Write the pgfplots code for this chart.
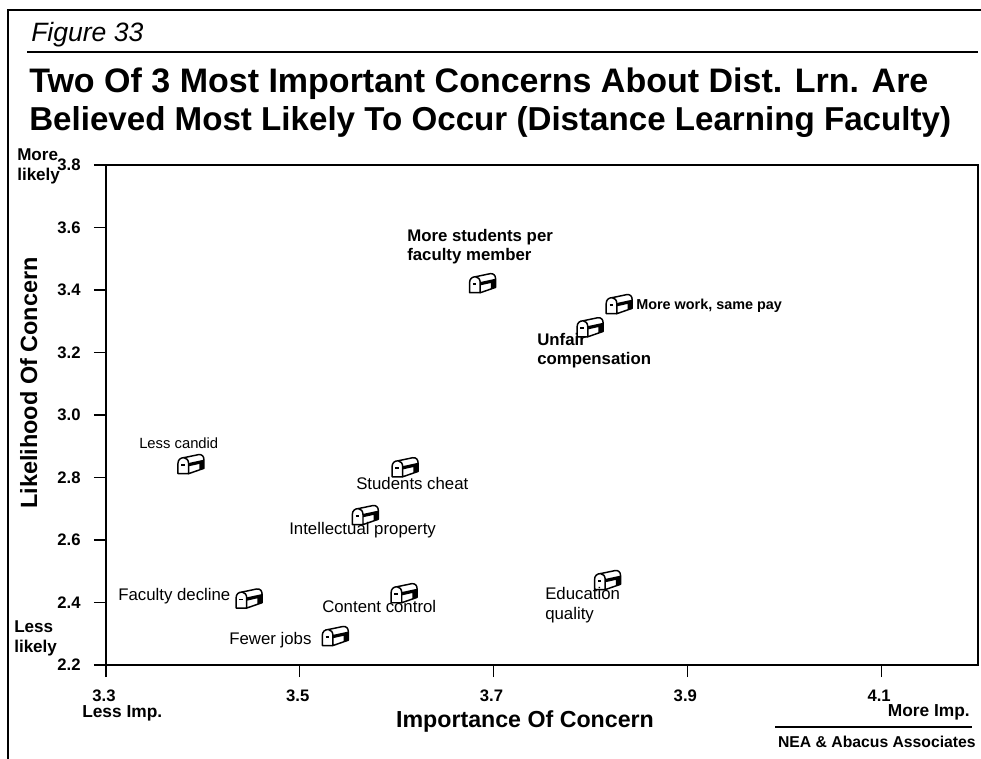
\documentclass[border=0pt]{standalone}
\usepackage{pgfplots}
\usepackage{fontspec}
\setmainfont{Liberation Sans}
\pgfplotsset{compat=1.18}
\pgfdeclareplotmark{mailbox}{%
  \pgfsetlinewidth{1.1pt}\pgfsetroundjoin
  % body
  \pgfpathmoveto{\pgfqpoint{-5.5pt}{5.5pt}}
  \pgfpathlineto{\pgfqpoint{5.5pt}{7.8pt}}
  \pgfpathcurveto{\pgfqpoint{8pt}{8.1pt}}{\pgfqpoint{9.5pt}{6.5pt}}{\pgfqpoint{9.5pt}{4pt}}
  \pgfpathlineto{\pgfqpoint{9.5pt}{-2.5pt}}
  \pgfpathlineto{\pgfqpoint{-2pt}{-6.5pt}}
  \pgfpathclose
  \pgfsetfillcolor{white}\pgfusepath{fill,stroke}
  % dark band and end of the box
  \pgfpathmoveto{\pgfqpoint{-2pt}{1.5pt}}
  \pgfpathlineto{\pgfqpoint{9.5pt}{4pt}}
  \pgfpathlineto{\pgfqpoint{9.5pt}{-2.5pt}}
  \pgfpathlineto{\pgfqpoint{6pt}{-3.7pt}}
  \pgfpathlineto{\pgfqpoint{6pt}{0.8pt}}
  \pgfpathlineto{\pgfqpoint{-2pt}{-1pt}}
  \pgfpathclose
  \pgfsetfillcolor{black}\pgfusepath{fill}
  % door
  \pgfpathmoveto{\pgfqpoint{-10pt}{-6.5pt}}
  \pgfpathlineto{\pgfqpoint{-10pt}{1pt}}
  \pgfpathcurveto{\pgfqpoint{-10pt}{4pt}}{\pgfqpoint{-8pt}{5.5pt}}{\pgfqpoint{-5.5pt}{5.5pt}}
  \pgfpathcurveto{\pgfqpoint{-3.5pt}{5.5pt}}{\pgfqpoint{-2pt}{3.5pt}}{\pgfqpoint{-2pt}{1pt}}
  \pgfpathlineto{\pgfqpoint{-2pt}{-6.5pt}}
  \pgfpathclose
  \pgfsetfillcolor{white}\pgfusepath{fill,stroke}
  \pgfpathmoveto{\pgfqpoint{-7.5pt}{0pt}}
  \pgfpathlineto{\pgfqpoint{-4.8pt}{0pt}}
  \pgfusepath{stroke}
}
\begin{document}
\begin{tikzpicture}
\begin{axis}[
  at={(79.5pt,-498.75pt)},anchor=south west,
  scale only axis,width=654pt,height=375pt,
  xmin=3.3,xmax=4.2,ymin=2.2,ymax=3.8,
  xtick={3.3,3.5,3.7,3.9,4.1},
  ytick={2.2,2.4,2.6,2.8,3.0,3.2,3.4,3.6,3.8},
  axis line style={line width=0.9pt},
  tick style={line width=0.9pt,black},
  tick align=outside,major tick length=9pt,
  xtick pos=bottom,ytick pos=left,
  tick label style={font=\bfseries\fontsize{12.5}{12.5}\selectfont},
  /pgf/number format/assume math mode=true,
  /pgf/number format/.cd,fixed,fixed zerofill,precision=1,/pgfplots/.cd,
  xticklabel style={yshift=-6pt,xshift=-1.5pt},
  yticklabel style={xshift=-6.5pt},
  clip=false,
]
\addplot[only marks,mark=mailbox,black] table {
x y
3.689 3.419
3.830 3.352
3.800 3.278
3.388 2.840
3.609 2.830
3.568 2.677
3.448 2.410
3.608 2.427
3.818 2.469
3.537 2.290
};
\end{axis}
\begin{scope}[x=0.75pt,y=-0.75pt]
\path[use as bounding box] (0,0) rectangle (981,759);
\draw[line width=1.6pt] (8,759) -- (8,10) -- (981,10);
\draw[line width=1.5pt] (27,52) -- (978,52);
\draw[line width=1.3pt] (775,727) -- (972,727);
\tikzset{every node/.style={anchor=base west,inner sep=0pt},
 bl/.style={font=\bfseries\fontsize{#1}{#1}\selectfont},rg/.style={font=\fontsize{#1}{#1}\selectfont}}
\node[font=\itshape\fontsize{19.9}{19.9}\selectfont] at (31,42) {Figure 33};
\node[bl=25.5] at (29,93) {Two Of 3 Most Important Concerns About Dist. Lrn. Are};
\node[bl=24.85] at (29,131) {Believed Most Likely To Occur (Distance Learning Faculty)};
\node[bl=12.6] at (407,242) {More students per};
\node[bl=12.6] at (407,261) {faculty member};
\node[bl=10.8] at (636,309) {More work, same pay};
\node[bl=12.6] at (537,345) {Unfair};
\node[bl=12.6] at (537,364) {compensation};
\node[rg=11.1] at (139,448) {Less candid};
\node[rg=12.6] at (356,489) {Students cheat};
\node[rg=12.6] at (289,534) {Intellectual property};
\node[rg=12.6] at (118,600) {Faculty decline};
\node[rg=12.6] at (322,612) {Content control};
\node[rg=12.6] at (545,599) {Education};
\node[rg=12.6] at (545,619) {quality};
\node[rg=12.6] at (229,644) {Fewer jobs};
\node[bl=12.8] at (17,161) {More};
\node[bl=12.8] at (17,181) {likely};
\node[bl=12.8] at (14,632) {Less};
\node[bl=12.8] at (14,652) {likely};
\node[bl=13] at (82,717) {Less Imp.};
\node[bl=13,anchor=base east] at (970,716) {More Imp.};
\node[bl=11.8,anchor=base east] at (976,747) {NEA \& Abacus Associates};
\node[bl=17.4,anchor=base] at (525,727) {Importance Of Concern};
\node[bl=17.6,anchor=base,rotate=90] at (37,383) {Likelihood Of Concern};
\end{scope}
\end{tikzpicture}
\end{document}
